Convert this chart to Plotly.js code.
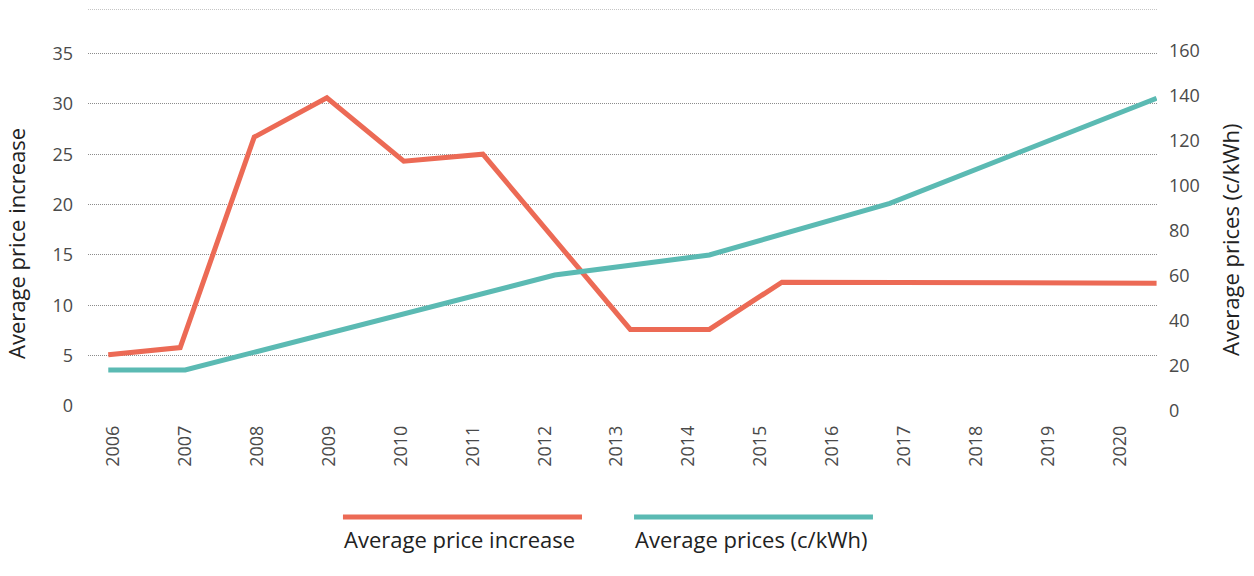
<!DOCTYPE html>
<html>
<head>
<meta charset="utf-8">
<script src="https://cdn.plot.ly/plotly-3.0.1.min.js"></script>
<style>html,body{margin:0;padding:0;background:#fff;}#chart{width:1254px;height:576px;}</style>
</head>
<body>
<div id="chart"></div>
<script>
// Tick labels (years)
const years = [2006,2007,2008,2009,2010,2011,2012,2013,2014,2015,2016,2017,2018,2019,2020];
const yearLabels = years.map(String);

// Series 1: Average price increase (left axis)
const increaseX = [2005.93, 2006.93, 2007.96, 2008.97, 2010.04, 2011.14, 2013.19, 2014.29, 2015.30, 2020.51];
const increaseY = [5.1, 5.8, 26.7, 30.6, 24.3, 25.0, 7.6, 7.6, 12.3, 12.2];

// Series 2: Average prices (c/kWh) (right axis)
const pricesX = [2005.93, 2007.0, 2012.14, 2014.29, 2016.80, 2020.51];
const pricesY = [18.2, 18.2, 60.3, 69.2, 92.1, 138.7];

const seriesNames = ["Average price increase", "Average prices (c/kWh)"];
const leftTitle = "Average price increase";
const rightTitle = "Average prices (c/kWh)";

const red = "#EC6A55";
const teal = "#5BBAB3";
const fontFam = "'Open Sans', 'Noto Sans', sans-serif";

const traces = [
  {x: increaseX, y: increaseY, name: seriesNames[0], type: "scatter", mode: "lines",
   line: {color: red, width: 5}, xaxis: "x", yaxis: "y", showlegend: false, hoverinfo: "x+y"},
  {x: pricesX, y: pricesY, name: seriesNames[1], type: "scatter", mode: "lines",
   line: {color: teal, width: 5}, xaxis: "x", yaxis: "y2", showlegend: false, hoverinfo: "x+y"}
];

const layout = {
  width: 1254, height: 576,
  margin: {l: 88, r: 97, t: 9, b: 165},
  paper_bgcolor: "#fff", plot_bgcolor: "rgba(0,0,0,0)",
  font: {family: fontFam, color: "#444", size: 18},
  showlegend: false,
  xaxis: {
    domain: [0, 1], range: [2005.648, 2020.516], anchor: "y",
    tickmode: "array", tickvals: years, ticktext: yearLabels,
    tickangle: -90, showgrid: false, zeroline: false, showline: false, ticks: "",
    ticklabelstandoff: 15, tickfont: {size: 18, color: "#4a4a4a", family: fontFam}
  },
  yaxis: {
    domain: [5/402, 1], range: [0, 39.42], anchor: "x",
    tickmode: "linear", tick0: 0, dtick: 5,
    showgrid: true, gridcolor: "#8c8c8c", griddash: "1px,1px", gridwidth: 1,
    zeroline: false, showline: false, ticks: "",
    ticklabelstandoff: 14, tickfont: {size: 18, color: "#4a4a4a", family: fontFam}
  },
  yaxis2: {
    domain: [0, 1], range: [0, 178.3], anchor: "x", side: "right",
    tickmode: "linear", tick0: 0, dtick: 20,
    showgrid: false, zeroline: false, showline: false, ticks: "",
    ticklabelstandoff: 11, tickfont: {size: 18, color: "#4a4a4a", family: fontFam}
  },
  shapes: [
    {type: "line", xref: "paper", yref: "y", x0: 0, x1: 1, y0: 39.42, y1: 39.42,
     line: {color: "#8c8c8c", width: 1, dash: "1px,1px"}},
    {type: "line", xref: "paper", yref: "paper", x0: 0.2385, x1: 0.4621, y0: -0.2637, y1: -0.2637,
     line: {color: red, width: 5}},
    {type: "line", xref: "paper", yref: "paper", x0: 0.5108, x1: 0.7343, y0: -0.2637, y1: -0.2637,
     line: {color: teal, width: 5}}
  ],
  annotations: [
    {text: seriesNames[0], xref: "paper", yref: "paper", x: 0.2375, y: -0.3184, xanchor: "left", yanchor: "middle",
     showarrow: false, font: {size: 22, color: "#222", family: fontFam}},
    {text: seriesNames[1], xref: "paper", yref: "paper", x: 0.5098, y: -0.3184, xanchor: "left", yanchor: "middle",
     showarrow: false, font: {size: 22, color: "#222", family: fontFam}},
    {text: leftTitle, xref: "paper", yref: "paper", x: -0.0674, y: 0.418, xanchor: "center", yanchor: "middle",
     textangle: -90, showarrow: false, font: {size: 22, color: "#222", family: fontFam}},
    {text: rightTitle, xref: "paper", yref: "paper", x: 1.0683, y: 0.4254, xanchor: "center", yanchor: "middle",
     textangle: -90, showarrow: false, font: {size: 22, color: "#222", family: fontFam}}
  ]
};

Plotly.newPlot("chart", traces, layout, {displayModeBar: false, staticPlot: true});
</script>
</body>
</html>
